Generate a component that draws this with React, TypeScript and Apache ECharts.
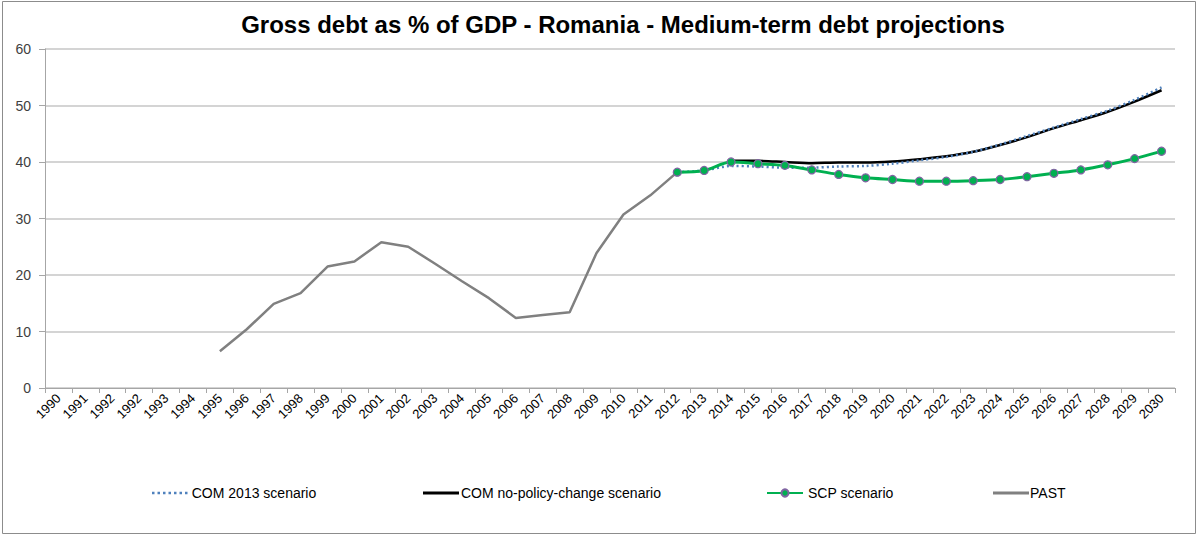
import React, { useEffect, useRef } from "react";
import * as echarts from "echarts";

const categories: string[] = [
  "1990", "1991", "1992", "1992", "1993", "1994", "1995", "1996", "1997", "1998", "1999",
  "2000", "2001", "2002", "2003", "2004", "2005", "2006", "2007", "2008", "2009", "2010",
  "2011", "2012", "2013", "2014", "2015", "2016", "2017", "2018", "2019", "2020", "2021",
  "2022", "2023", "2024", "2025", "2026", "2027", "2028", "2029", "2030",
];

const pastStart = "1995";
const pastValues = [6.5, 10.4, 14.9, 16.8, 21.5, 22.4, 25.8, 25.0, 22.0, 18.9, 15.9, 12.4, 12.9, 13.4, 23.9, 30.7, 34.1, 38.2];

const scpStart = "2012";
const scpValues = [38.2, 38.5, 40.0, 39.7, 39.4, 38.6, 37.8, 37.2, 36.9, 36.6, 36.6, 36.7, 36.9, 37.4, 38.0, 38.6, 39.5, 40.6, 41.9];

const npcStart = "2014";
const npcValues = [40.2, 40.2, 40.0, 39.8, 39.9, 39.9, 40.1, 40.5, 41.0, 41.8, 43.0, 44.4, 46.0, 47.4, 48.9, 50.7, 52.7];

const com2013Start = "2012";
const com2013Values = [38.2, 38.5, 39.3, 39.2, 39.0, 39.0, 39.2, 39.3, 39.7, 40.3, 40.9, 41.8, 43.1, 44.6, 46.1, 47.6, 49.1, 51.0, 53.2];

const yTicks = { min: 0, max: 60, interval: 10 };

function place(start: string, values: number[]): (number | null)[] {
  const out: (number | null)[] = categories.map(() => null);
  const s = categories.lastIndexOf(start);
  values.forEach((v, i) => {
    out[s + i] = v;
  });
  return out;
}

const FONT = "Liberation Sans";

const dottedIcon =
  "path://" +
  [0, 5.5, 11, 16.5, 22, 27.5, 33].map((x) => `M${x},0h2.5v2.5h-2.5z`).join(" ") +
  " M0,0h0.01v2.5h-0.01z M35.5,0h0.01v2.5h-0.01z";

export default function App() {
  const ref = useRef<HTMLDivElement>(null);
  useEffect(() => {
    document.body.style.margin = "0";
    if (!ref.current) return;
    const chart = echarts.init(ref.current, undefined, { renderer: "svg" });
    const legendText = { fontFamily: FONT, fontSize: 14, color: "#000" };
    const mkLegend = (name: string, left: number, icon?: string, h = 14, pad = -1) => ({
      data: [icon ? { name, icon } : { name }],
      left,
      top: 481,
      itemWidth: 36,
      itemHeight: h,
      itemGap: 0,
      textStyle: { ...legendText, padding: [0, 0, 0, pad] },
      selectedMode: false,
    });
    chart.setOption({
      animation: false,
      backgroundColor: "#fff",
      title: {
        text: "Gross debt as % of GDP - Romania - Medium-term debt projections",
        left: 618,
        textAlign: "center",
        top: 7,
        textStyle: { fontFamily: FONT, fontWeight: "bold", fontSize: 24, color: "#000" },
      },
      graphic: [
        {
          type: "rect",
          shape: { x: 2.5, y: 1.5, width: 1193, height: 532 },
          style: { fill: "none", stroke: "#8c8c8c", lineWidth: 1 },
          silent: true,
        },
      ],
      legend: [
        mkLegend("COM 2013 scenario", 147, dottedIcon, 2.5),
        mkLegend("COM no-policy-change scenario", 418, "rect", 3, -3),
        mkLegend("SCP scenario", 761, undefined, 9, 0),
        mkLegend("PAST", 988, "rect", 3, -4),
      ],
      grid: { left: 45, right: 22, top: 49, bottom: 147 },
      xAxis: {
        type: "category",
        data: categories,
        boundaryGap: true,
        axisLine: { lineStyle: { color: "#a6a6a6", width: 1 } },
        axisTick: { show: true, length: 5, lineStyle: { color: "#a6a6a6" }, interval: 0 },
        axisLabel: {
          interval: 0,
          rotate: 45,
          margin: 8,
          fontFamily: FONT,
          fontSize: 13,
          color: "#000",
        },
      },
      yAxis: {
        type: "value",
        min: yTicks.min,
        max: yTicks.max,
        interval: yTicks.interval,
        axisLine: { show: true, lineStyle: { color: "#a6a6a6" } },
        axisTick: { show: true, length: 6, lineStyle: { color: "#a6a6a6" } },
        axisLabel: { fontFamily: FONT, fontSize: 14, color: "#404040", margin: 14 },
        splitLine: { lineStyle: { color: "#c6c6c6", width: 1.5 } },
      },
      series: [
        {
          name: "PAST",
          type: "line",
          data: place(pastStart, pastValues),
          symbol: "none",
          lineStyle: { color: "#808080", width: 2.5 },
          itemStyle: { color: "#808080" },
          z: 2,
        },
        {
          name: "COM no-policy-change scenario",
          type: "line",
          data: place(npcStart, npcValues),
          symbol: "none",
          smooth: 0.3,
          lineStyle: { color: "#000", width: 2.5 },
          itemStyle: { color: "#000" },
          z: 3,
        },
        {
          name: "COM 2013 scenario",
          type: "line",
          data: place(com2013Start, com2013Values),
          symbol: "none",
          smooth: 0.3,
          lineStyle: { color: "#4f81bd", width: 2.5, type: [2, 3] },
          itemStyle: { color: "#4f81bd" },
          z: 4,
        },
        {
          name: "SCP scenario",
          type: "line",
          data: place(scpStart, scpValues),
          symbol: "circle",
          symbolSize: 8,
          smooth: 0.3,
          lineStyle: { color: "#00b050", width: 3 },
          itemStyle: { color: "#00b050", borderColor: "#8064a2", borderWidth: 1.2 },
          z: 5,
        },
      ],
    });
    return () => chart.dispose();
  }, []);
  return <div ref={ref} style={{ width: 1197, height: 535 }} />;
}
